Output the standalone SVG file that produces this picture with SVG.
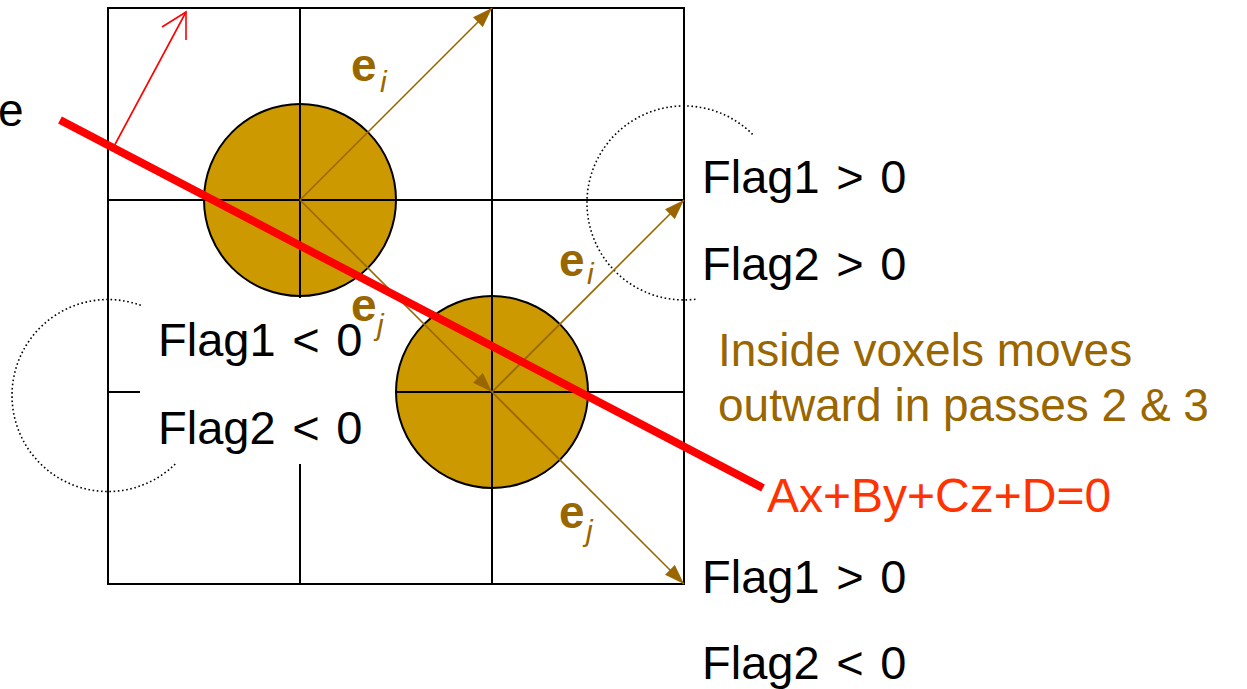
<svg xmlns="http://www.w3.org/2000/svg" width="1247" height="689" viewBox="0 0 1247 689">
  <style>
    .grid { stroke: #000; stroke-width: 2; fill: none; }
    .disc { fill: #CC9900; stroke: #000; stroke-width: 2; }
    .vec { stroke: #996600; stroke-width: 1.6; fill: none; marker-end: url(#brownHead); }
    .dots { stroke: #000; stroke-width: 1.6; fill: none; stroke-dasharray: 1.6 2.6; }
    .t { font-family: "Liberation Sans", Arial, sans-serif; font-size: 46px; fill: #000; }
    .flag { font-family: "Liberation Sans", Arial, sans-serif; font-size: 47px; word-spacing: 3.5px; fill: #000; }
    .brown { fill: #996600; }
    .eb { font-family: "Liberation Sans", Arial, sans-serif; font-size: 46px; font-weight: bold; fill: #996600; }
    .sub { font-family: "Liberation Sans", Arial, sans-serif; font-size: 30px; font-style: italic; fill: #996600; }
    .eq { font-family: "Liberation Sans", Arial, sans-serif; font-size: 48px; fill: #FF3300; }
  </style>
  <defs>
    <marker id="brownHead" viewBox="0 0 20 14" refX="20" refY="7" markerWidth="20" markerHeight="14" markerUnits="userSpaceOnUse" orient="auto">
      <path d="M0,0 L20,7 L0,14 z" fill="#996600"/>
    </marker>
  </defs>
  <rect width="1247" height="689" fill="#fff"/>

  <g id="voxel-centres">
    <circle id="disc1" class="disc" cx="300" cy="200" r="96"/>
    <circle id="disc2" class="disc" cx="492" cy="392" r="96"/>
  </g>

  <g id="voxel-grid">
    <rect class="grid" x="108" y="8" width="576" height="576"/>
    <line class="grid" x1="300" y1="8" x2="300" y2="298"/>
    <line class="grid" x1="300" y1="464" x2="300" y2="584"/>
    <line class="grid" x1="492" y1="8" x2="492" y2="584"/>
    <line class="grid" x1="108" y1="200" x2="684" y2="200"/>
    <line class="grid" x1="108" y1="392" x2="140" y2="392"/>
    <line class="grid" x1="396" y1="392" x2="684" y2="392"/>
  </g>

  <g id="dotted-arcs">
    <path class="dots" d="M752.6,134.4 A97,97 0 1 0 697.5,299"/>
    <path class="dots" d="M140.8,305.3 A96,96 0 1 0 175.9,463.4"/>
  </g>

  <g id="connectors">
    <line class="vec" x1="300" y1="200" x2="492" y2="8"/>
    <line class="vec" x1="300" y1="200" x2="492" y2="392"/>
    <line class="vec" x1="492" y1="392" x2="684" y2="200"/>
    <line class="vec" x1="492" y1="392" x2="684" y2="584"/>
    <line x1="60" y1="120" x2="763" y2="488" stroke="#FF0000" stroke-width="8"/>
    <line x1="112" y1="150" x2="186" y2="12" stroke="#FF0000" stroke-width="1.6"/>
    <polyline points="162,27 186,12 186,40" stroke="#FF0000" stroke-width="1.6" fill="none"/>
  </g>

  <g id="labels">
    <text class="t" x="-2" y="126">e</text>
    <g id="ei1"><text class="eb" x="351" y="81">e</text><text class="sub" x="380" y="92">i</text></g>
    <g id="ej1"><text class="eb" x="351" y="321">e</text><text class="sub" x="377" y="335">j</text></g>
    <g id="ei2"><text class="eb" x="559" y="276">e</text><text class="sub" x="587" y="284">i</text></g>
    <g id="ej2"><text class="eb" x="559" y="528">e</text><text class="sub" x="586" y="541">j</text></g>
  </g>

  <g id="flags-left">
    <text class="flag" x="158" y="356">Flag1 &lt; 0</text>
    <text class="flag" x="158" y="444">Flag2 &lt; 0</text>
  </g>
  <g id="flags-top-right">
    <text class="flag" x="702" y="193">Flag1 &gt; 0</text>
    <text class="flag" x="702" y="280">Flag2 &gt; 0</text>
  </g>
  <g id="flags-bottom-right">
    <text class="flag" x="702" y="593">Flag1 &gt; 0</text>
    <text class="flag" x="702" y="679">Flag2 &lt; 0</text>
  </g>
  <g id="note">
    <text class="t brown" x="718" y="366">Inside voxels moves</text>
    <text class="t brown" x="718" y="421">outward in passes 2 &amp; 3</text>
  </g>
  <g id="plane-label">
    <text class="eq" x="767" y="512">Ax+By+Cz+D=0</text>
  </g>
</svg>
